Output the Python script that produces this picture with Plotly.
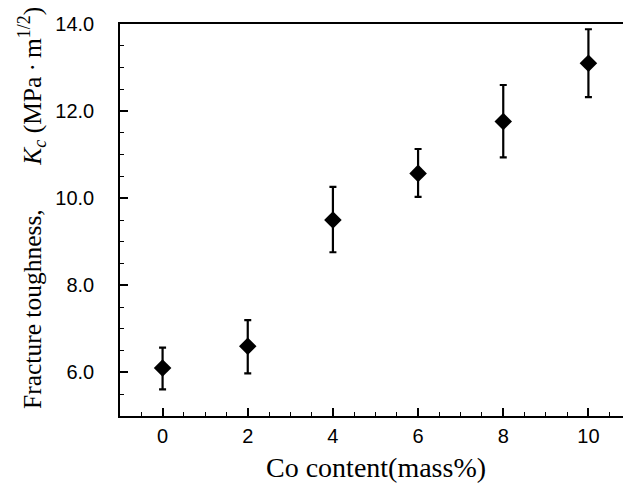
import plotly.graph_objects as go

co_content = [0, 2, 4, 6, 8, 10]
toughness = [6.10, 6.60, 9.50, 10.57, 11.76, 13.10]
err_plus = [0.47, 0.60, 0.76, 0.56, 0.84, 0.78]
err_minus = [0.49, 0.62, 0.74, 0.54, 0.82, 0.78]

x_ticks = [0, 2, 4, 6, 8, 10]
y_ticks = [6, 8, 10, 12, 14]
y_ticklabels = ["6.0", "8.0", "10.0", "12.0", "14.0"]

fig = go.Figure()
fig.add_trace(go.Scatter(
    x=co_content, y=toughness, mode="markers",
    marker=dict(symbol="diamond", size=13.5, color="black"),
    error_y=dict(type="data", symmetric=False, array=err_plus, arrayminus=err_minus,
                 color="black", thickness=2.2, width=3.5),
    showlegend=False,
))

# page body has an 8px margin, so the figure is offset by 8px
OFF = 8
W, H = 631 - OFF, 487 - OFF
ml, mr, mt, mb = 120 - OFF, 0, 24 - OFF, 71

fig.update_layout(
    width=W, height=H,
    margin=dict(l=ml, r=mr, t=mt, b=mb, autoexpand=False),
    paper_bgcolor="white", plot_bgcolor="white",
    font=dict(family="Liberation Sans, Arial", color="black"),
    xaxis=dict(range=[-1, 11], tickvals=x_ticks, ticktext=[str(v) for v in x_ticks],
               ticks="inside", ticklen=8, tickwidth=1.5, tickcolor="black",
               minor=dict(dtick=0.5, tick0=0, ticks="inside", ticklen=4, tickwidth=1.2, tickcolor="black"),
               showline=True, linecolor="black", linewidth=1.5, mirror=True,
               showgrid=False, zeroline=False,
               tickfont=dict(size=20, family="Liberation Sans, Arial"), ticklabelstandoff=1),
    yaxis=dict(range=[5, 14], tickvals=y_ticks, ticktext=y_ticklabels,
               ticks="inside", ticklen=8, tickwidth=1.5, tickcolor="black",
               minor=dict(dtick=0.5, tick0=0, ticks="inside", ticklen=4, tickwidth=1.2, tickcolor="black"),
               showline=True, linecolor="black", linewidth=1.5, mirror=False,
               showgrid=False, zeroline=False,
               tickfont=dict(size=20, family="Liberation Sans, Arial"), ticklabelstandoff=20),
)

pw = W - ml - mr
ph = H - mt - mb
fig.add_annotation(
    text="Co content(mass%)", xref="paper", yref="paper",
    x=0.5, y=-((467 - OFF) - (H - mb)) / ph, xanchor="center", yanchor="middle",
    showarrow=False, font=dict(family="Liberation Serif, Times New Roman", size=28, color="black"),
)
fig.add_annotation(
    text="Fracture toughness," + "&nbsp;" * 7 + "<i>K<sub>c</sub></i> (MPa\u2009·\u2009m<sup>1/2</sup>)",
    xref="paper", yref="paper",
    x=-(ml - (32 - OFF)) / pw, y=1 - ((208 - OFF) - mt) / ph, xanchor="center", yanchor="middle",
    textangle=-90, showarrow=False,
    font=dict(family="Liberation Serif, Times New Roman", size=25.5, color="black"),
)

fig.write_html("out.html")
